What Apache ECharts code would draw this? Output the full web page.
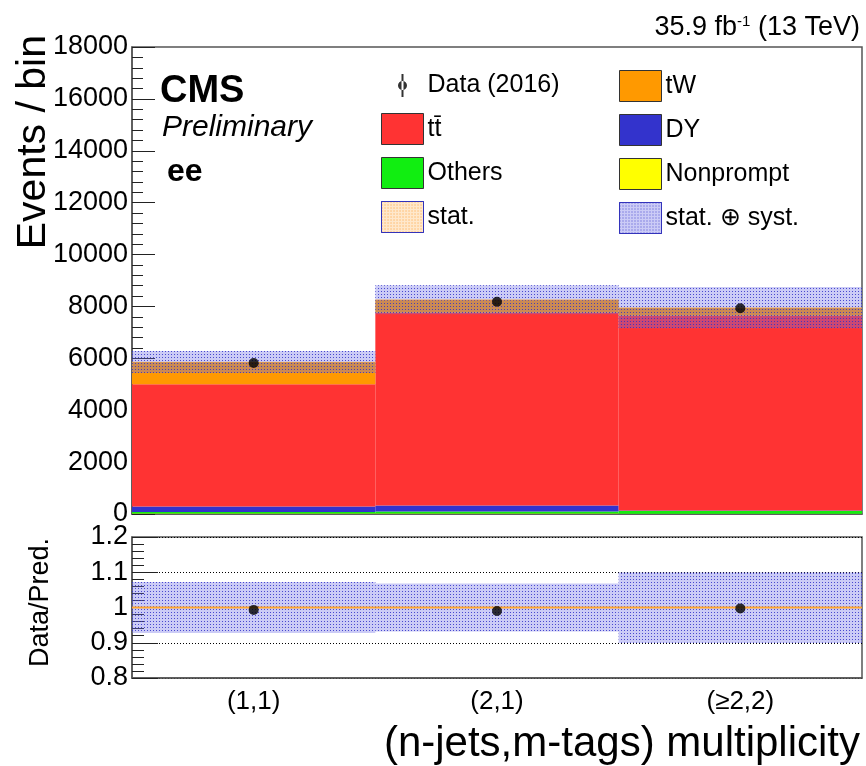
<!DOCTYPE html>
<html>
<head>
<meta charset="utf-8">
<script src="https://cdn.jsdelivr.net/npm/echarts@6/dist/echarts.min.js"></script>
<style>
  html, body { margin: 0; padding: 0; background: #fff; }
  #container { width: 866px; height: 766px; }
</style>
</head>
<body>
<div id="container"></div>
<script>
// bins
var categories = ['(1,1)', '(2,1)', '(\u22652,2)'];

// stacked predictions, events per bin
var nonprompt = [15, 15, 10];
var others = [60, 80, 110];
var dy = [210, 230, 15];
var ttbar = [4715, 7435, 7505];
var tw = [860, 500, 310];

// observed
var data2016 = [5820, 8180, 7930];

// relative uncertainties
var systRel = [0.072, 0.068, 0.10];
var statRel = [0.003, 0.003, 0.003];

var FONT = '"Liberation Sans", Arial, Helvetica, sans-serif';

// dotted ROOT-like fill
function hatch(dot) {
    return {
        symbol: 'rect',
        symbolSize: 1,
        color: dot,
        dashArrayX: [1, 2],
        dashArrayY: [1, 2],
        rotation: 0
    };
}

var total = [];
for (var i = 0; i < categories.length; i++) {
    total.push(nonprompt[i] + others[i] + dy[i] + ttbar[i] + tw[i]);
}
var systBase = [], systBand = [], statBase = [], statBand = [];
var rSystBase = [], rSystBand = [], rStatBase = [], rStatBand = [], ratio = [];
for (var i = 0; i < categories.length; i++) {
    systBase.push(total[i] * (1 - systRel[i]));
    systBand.push(total[i] * 2 * systRel[i]);
    statBase.push(total[i] * (1 - statRel[i]));
    statBand.push(total[i] * 2 * statRel[i]);
    rSystBase.push(1 - systRel[i]);
    rSystBand.push(2 * systRel[i]);
    rStatBase.push(1 - statRel[i]);
    rStatBand.push(2 * statRel[i]);
    ratio.push(data2016[i] / total[i]);
}

function stackBar(name, values, color, stack, x, y, z, decal) {
    var s = {
        name: name,
        type: 'bar',
        stack: stack,
        xAxisIndex: x,
        yAxisIndex: y,
        data: values,
        barGap: '-100%',
        barCategoryGap: '0%',
        z: z,
        itemStyle: { color: color },
        emphasis: { disabled: true }
    };
    if (decal) s.itemStyle.decal = decal;
    return s;
}

var dataIcon = 'path://M0,0h0.01v0.01h-0.01z M41.99,30.99h0.01v0.01h-0.01z ' +
    'M20,4h2v23h-2z M16.5,15.5a4.5,4.5 0 1,0 9,0a4.5,4.5 0 1,0 -9,0z';

var dom = document.getElementById('container');
var myChart = echarts.init(dom, null, { renderer: 'canvas' });

var legendText = { fontSize: 25, color: '#000', fontFamily: FONT, padding: [0, 0, 0, -1] };
var bandWash = 'rgba(110,110,230,0.36)';
var bandDots = 'rgba(50,50,200,0.85)';

var option = {
    animation: false,
    backgroundColor: '#fff',
    textStyle: { fontFamily: FONT },
    grid: [
        { left: 132, right: 4, top: 47, bottom: 252, show: true, borderColor: '#555', borderWidth: 1.5 },
        { left: 132, right: 4, top: 537, bottom: 88, show: true, borderColor: '#555', borderWidth: 1.5 }
    ],
    legend: [{
        left: 376, top: 65, orient: 'vertical', icon: 'rect',
        itemWidth: 42, itemHeight: 31, itemGap: 12,
        selectedMode: false,
        itemStyle: { borderColor: '#333', borderWidth: 1 },
        textStyle: legendText,
        data: [
            { name: 'Data (2016)', icon: dataIcon, itemStyle: { borderWidth: 0 } },
            { name: 'tt\u0304' },
            { name: 'Others' },
            { name: 'stat.', itemStyle: { borderColor: '#3333bb' } }
        ]
    }, {
        left: 614, top: 65, orient: 'vertical', icon: 'rect',
        itemWidth: 42, itemHeight: 31, itemGap: 12,
        selectedMode: false,
        itemStyle: { borderColor: '#333', borderWidth: 1 },
        textStyle: legendText,
        data: [
            { name: 'tW' },
            { name: 'DY' },
            { name: 'Nonprompt' },
            { name: 'stat. \u2295 syst.', itemStyle: { borderColor: '#3333bb' } }
        ]
    }],
    xAxis: [{
        type: 'category', gridIndex: 0, data: categories,
        axisLine: { lineStyle: { color: '#555', width: 1.5 } },
        axisTick: { inside: true, length: 14, alignWithLabel: false, interval: 0, lineStyle: { color: '#222' } },
        axisLabel: { show: false }
    }, {
        type: 'category', gridIndex: 1, data: categories,
        axisLine: { lineStyle: { color: '#555', width: 1.5 } },
        axisTick: { inside: true, length: 10, alignWithLabel: false, interval: 0, lineStyle: { color: '#222' } },
        axisLabel: { fontSize: 26, color: '#000', margin: 11, fontFamily: FONT }
    }, {
        type: 'category', gridIndex: 1, data: categories, position: 'top',
        axisLine: { show: false },
        axisTick: { inside: true, length: 10, alignWithLabel: false, interval: 0, lineStyle: { color: '#222' } },
        axisLabel: { show: false }
    }],
    yAxis: [{
        type: 'value', gridIndex: 0, min: 0, max: 18000, interval: 2000,
        axisLine: { show: true, lineStyle: { color: '#555', width: 1.5 } },
        axisTick: { show: true, inside: true, length: 23, lineStyle: { color: '#222' } },
        minorTick: { show: true, splitNumber: 5, length: 11, lineStyle: { color: '#222' } },
        splitLine: { show: false },
        axisLabel: {
            fontSize: 27, color: '#000', margin: 4, fontFamily: FONT,
            formatter: function (v) { return String(v); }
        }
    }, {
        type: 'value', gridIndex: 1, min: 0.8, max: 1.2, interval: 0.1,
        axisLine: { show: true, lineStyle: { color: '#555', width: 1.5 } },
        axisTick: { show: true, inside: true, length: 26, lineStyle: { color: '#222' } },
        minorTick: { show: true, splitNumber: 5, length: 12, lineStyle: { color: '#222' } },
        splitLine: { show: true, lineStyle: { color: '#000', type: [1, 2], width: 1 } },
        axisLabel: {
            fontSize: 27, color: '#000', margin: 4, fontFamily: FONT,
            formatter: function (v) { return String(Math.round(v * 10) / 10); }
        }
    }],
    series: [
        stackBar('Nonprompt', nonprompt, '#ffff00', 'mc', 0, 0, 2),
        stackBar('Others', others, '#11ee11', 'mc', 0, 0, 2),
        stackBar('DY', dy, '#3333cc', 'mc', 0, 0, 2),
        stackBar('tt\u0304', ttbar, '#ff3333', 'mc', 0, 0, 2),
        stackBar('tW', tw, '#ff9900', 'mc', 0, 0, 2),
        stackBar('systBase', systBase, 'rgba(0,0,0,0)', 'syst', 0, 0, 3),
        stackBar('stat. \u2295 syst.', systBand, bandWash, 'syst', 0, 0, 3, hatch(bandDots)),
        stackBar('statBase', statBase, 'rgba(0,0,0,0)', 'stat', 0, 0, 4),
        stackBar('stat.', statBand, 'rgba(255,190,110,0.35)', 'stat', 0, 0, 4, hatch('rgba(255,150,30,0.9)')),
        {
            name: 'Data (2016)', type: 'scatter', xAxisIndex: 0, yAxisIndex: 0,
            data: data2016, symbol: 'circle', symbolSize: 10, z: 6,
            itemStyle: { color: '#000' }
        },
        stackBar('rSystBase', rSystBase, 'rgba(0,0,0,0)', 'rsyst', 1, 1, 3),
        stackBar('stat. \u2295 syst.', rSystBand, bandWash, 'rsyst', 1, 1, 3, hatch(bandDots)),
        stackBar('rStatBase', rStatBase, 'rgba(0,0,0,0)', 'rstat', 1, 1, 4),
        stackBar('stat.', rStatBand, '#ffa630', 'rstat', 1, 1, 4),
        {
            name: 'Data (2016)', type: 'scatter', xAxisIndex: 1, yAxisIndex: 1,
            data: ratio, symbol: 'circle', symbolSize: 10, z: 6,
            itemStyle: { color: '#000' }
        }
    ],
    graphic: [
        { type: 'text', x: 860, y: 41, style: {
            text: '35.9 fb{sup|-1} (13 TeV)', font: '27px ' + FONT, fill: '#000',
            align: 'right', verticalAlign: 'bottom',
            rich: { sup: { fontSize: 15, verticalAlign: 'top', padding: [0, 0, 11, 0] } } } },
        { type: 'text', x: 160, y: 111, style: {
            text: 'CMS', font: 'bold 38px ' + FONT, fill: '#000', align: 'left', verticalAlign: 'bottom' } },
        { type: 'text', x: 162, y: 143, style: {
            text: 'Preliminary', font: 'italic 30px ' + FONT, fill: '#000', align: 'left', verticalAlign: 'bottom' } },
        { type: 'text', x: 167, y: 188, style: {
            text: 'ee', font: 'bold 32px ' + FONT, fill: '#000', align: 'left', verticalAlign: 'bottom' } },
        { type: 'text', x: 54, y: 35, rotation: Math.PI / 2, style: {
            text: 'Events / bin', font: '41px ' + FONT, fill: '#000', align: 'right', verticalAlign: 'bottom' } },
        { type: 'text', x: 54, y: 538, rotation: Math.PI / 2, style: {
            text: 'Data/Pred.', font: '27px ' + FONT, fill: '#000', align: 'right', verticalAlign: 'bottom' } },
        { type: 'text', x: 860, y: 765, style: {
            text: '(n-jets,m-tags) multiplicity', font: '42px ' + FONT, fill: '#000', align: 'right', verticalAlign: 'bottom' } }
    ]
};

if (option && typeof option === 'object') {
    myChart.setOption(option, true);
}
</script>
</body>
</html>
